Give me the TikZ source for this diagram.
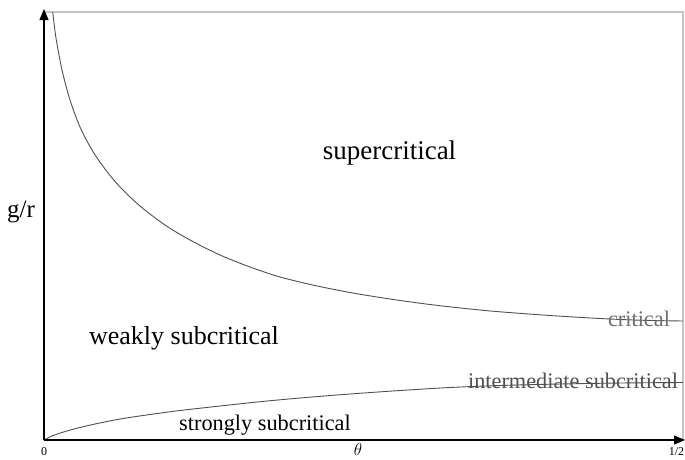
\documentclass[tikz,border=0pt]{standalone}
\usepackage{fontspec}
\setmainfont{Liberation Serif}
\usetikzlibrary{arrows.meta}
\definecolor{framegray}{HTML}{C4C4C4}
\definecolor{curvegray}{HTML}{505050}
\definecolor{labgray}{HTML}{6E6E6E}
\begin{document}
\begin{tikzpicture}[x=1pt,y=-1pt,
  axis/.style={draw=black,line width=1.2pt,-{Triangle[length=11pt,width=9pt]}},
  curve/.style={draw=curvegray,line width=0.9pt},
  sidelab/.style={font=\fontsize{22.3}{25}\selectfont,inner sep=0pt},
  ticklab/.style={font=\fontsize{12}{14}\selectfont,inner sep=0pt}]
\useasboundingbox (0,0) rectangle (685,459);
\fill[white] (0,0) rectangle (685,459);
% frame
\coordinate (o) at (44,440);
\coordinate (tl) at (44,12);
\coordinate (tr) at (683,12);
\coordinate (br) at (683,440);
\draw[framegray,line width=1.5pt] (tl) -- (tr) -- (br);
% curves
\draw[curve] plot[smooth,tension=0.5] coordinates {(52.7,12) (56,38) (62,70) (70,100) (80,127) (92,150) (105,169) (120,187) (140,206) (165,225) (190,240) (220,255) (250,267) (280,277) (315,285.5) (350,292.5) (390,299) (430,304.5) (470,309) (500,311.8) (550,315.5) (600,318.5) (640,320.2) (683,321)};
\draw[curve] plot[smooth,tension=0.5] coordinates {(44,440) (52,436) (62,432.5) (75,428.7) (95,424) (120,419) (150,414.5) (180,410.5) (220,406) (260,401.7) (300,398) (350,394) (400,390.5) (450,387.5) (500,385.5) (560,384) (620,383) (683,382.5)};
% axes
\coordinate (ytip) at (44,9);
\coordinate (xtip) at (685,440);
\draw[axis] (o) -- (ytip);
\draw[axis] (o) -- (xtip);
% labels
\node[font=\fontsize{27}{30}\selectfont,inner sep=0pt] (sup) at (389.5,153) {supercritical};
\node[font=\fontsize{26}{29}\selectfont,inner sep=0pt] (weak) at (184,338) {weakly subcritical};
\node[sidelab] (strong) at (265,425) {strongly subcritical};
\node[sidelab,text=curvegray] (inter) at (573,381) {intermediate subcritical};
\node[sidelab,text=labgray] (crit) at (639,319) {critical};
\node[font=\fontsize{25}{28}\selectfont,inner sep=0pt] (gr) at (21,212) {g/r};
\node[ticklab] (zero) at (44,451.5) {0};
\node[font=\fontsize{19}{21}\selectfont,inner sep=0pt] (theta) at (358,449) {$\theta$};
\node[ticklab] (half) at (676.5,451.5) {1/2};
\end{tikzpicture}
\end{document}
